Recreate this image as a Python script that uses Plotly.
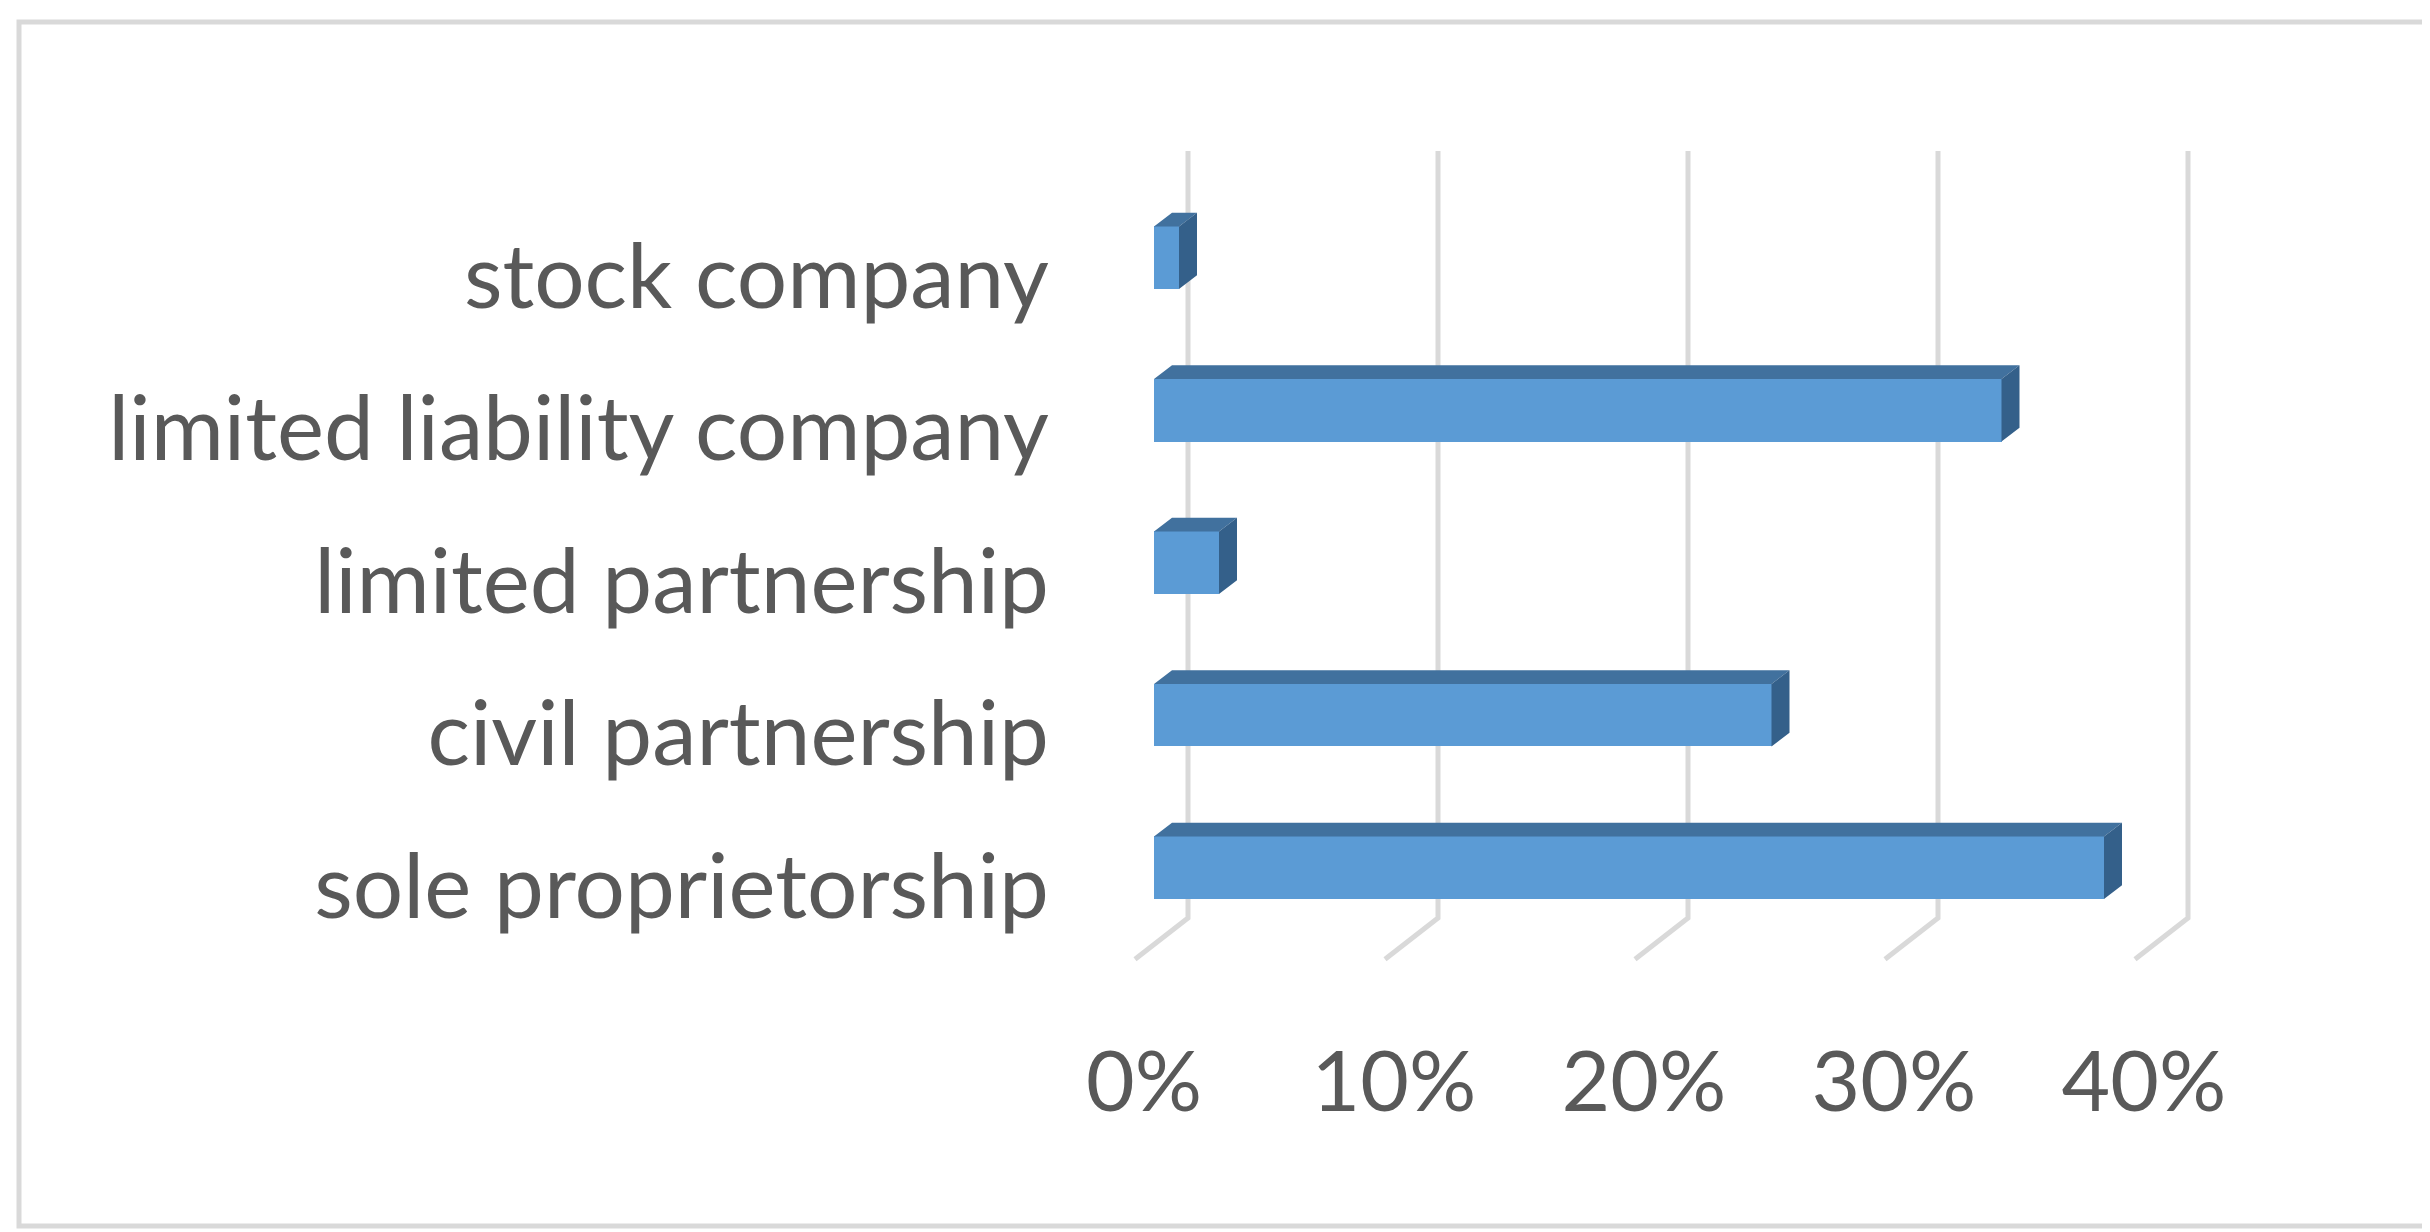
import plotly.graph_objects as go

# legal forms, bottom to top as drawn
categories = [
    "sole proprietorship",
    "civil partnership",
    "limited partnership",
    "limited liability company",
    "stock company",
]
shares_pct = [38.0, 24.7, 2.6, 33.9, 1.0]
tick_vals = [0, 10, 20, 30, 40]
tick_text = ["0%", "10%", "20%", "30%", "40%"]

FRONT = "#5B9BD5"
TOP = "#41719E"
SIDE = "#34608A"
GRID = "#D9D9D9"
TEXT = "#595959"
FONT = "Lato"

BAR_H = 0.41      # front face height (category units)
DEPTH_X = 0.72    # oblique depth offset, % units
DEPTH_Y = 0.09    # oblique depth offset, category units
WALL_X = 1.36     # back wall offset of gridlines
FLOOR_X = -0.76   # front edge of the floor
GRID_TOP = 4.70
GRID_BOTTOM = -0.33
FLOOR_Y = -0.60

pos = list(range(len(categories)))

fig = go.Figure()

# front faces
fig.add_trace(go.Bar(x=shares_pct, y=pos, orientation="h", width=BAR_H,
                     marker=dict(color=FRONT, line=dict(width=0)),
                     showlegend=False,
                     customdata=categories,
                     hovertemplate="%{customdata}: %{x:.1f}%<extra></extra>"))

# top and side faces of the boxes
tx, ty, sx, sy = [], [], [], []
for p, v in zip(pos, shares_pct):
    top = p + BAR_H / 2
    bot = p - BAR_H / 2
    tx += [0, v, v + DEPTH_X, DEPTH_X, 0, None]
    ty += [top, top, top + DEPTH_Y, top + DEPTH_Y, top, None]
    sx += [v, v + DEPTH_X, v + DEPTH_X, v, v, None]
    sy += [bot, bot + DEPTH_Y, top + DEPTH_Y, top, bot, None]
fig.add_trace(go.Scatter(x=tx, y=ty, mode="lines", fill="toself",
                         fillcolor=TOP, line=dict(width=0, color=TOP),
                         hoverinfo="skip", showlegend=False))
fig.add_trace(go.Scatter(x=sx, y=sy, mode="lines", fill="toself",
                         fillcolor=SIDE, line=dict(width=0, color=SIDE),
                         hoverinfo="skip", showlegend=False))

# back-wall gridlines with their floor diagonals, kept behind the bars
shapes = []
for t in tick_vals:
    path = (f"M {t + WALL_X},{GRID_TOP} L {t + WALL_X},{GRID_BOTTOM} "
            f"L {t + FLOOR_X},{FLOOR_Y}")
    shapes.append(dict(type="path", xref="x", yref="y", path=path,
                       layer="below", line=dict(color=GRID, width=5)))

# chart frame
shapes.append(dict(type="rect", xref="paper", yref="paper",
                   x0=-1089 / 1200, x1=1 + 119 / 1200,
                   y0=-218 / 900, y1=1 + 86 / 900,
                   line=dict(color=GRID, width=5)))

fig.update_layout(
    width=2430,
    height=1232,
    margin=dict(l=1100, r=130, t=100, b=232),
    paper_bgcolor="white",
    plot_bgcolor="white",
    font=dict(family=FONT, color=TEXT, size=88),
    bargap=0,
    shapes=shapes,
)
fig.update_xaxes(range=[-1.84, 46.16], tickvals=tick_vals, ticktext=tick_text,
                 showgrid=False, zeroline=False, showline=False,
                 ticks="", ticklabelstandoff=18, ticklabelshift=-10,
                 tickfont=dict(size=84), fixedrange=True)
fig.update_yaxes(range=[-0.92, 4.982], tickvals=pos, ticktext=categories,
                 showgrid=False, zeroline=False, showline=False,
                 ticks="", ticklabelstandoff=58, ticklabelshift=19,
                 tickfont=dict(size=89), fixedrange=True)

fig.write_html("out.html")
